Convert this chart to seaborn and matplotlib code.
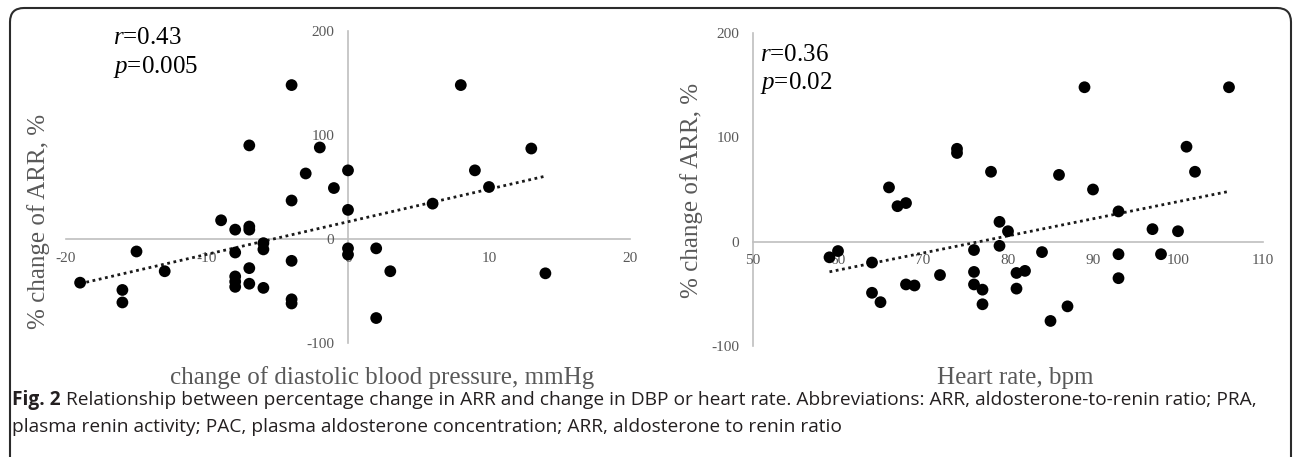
import numpy as np
import pandas as pd
import matplotlib
matplotlib.use("Agg")
import matplotlib.pyplot as plt
import seaborn as sns
from matplotlib.patches import FancyBboxPatch

# ---------------- data ----------------
dbp_change = [-4, 8, -7, -2, -3, 0, -1, 9, 10, 13, 6, -4, 0, -9, -8, -7, -7, -6, -6, -15,
              -8, -4, -7, -13, -19, -8, -8, -8, -7, -6, -16, -16, -4, -4, 0, 0, 2, 3, 14, 2]
arr_change_dbp = [148, 148, 90, 88, 63, 66, 49, 66, 50, 87, 34, 37, 28, 18, 9, 12, 9, -4, -10, -12,
                  -13, -21, -28, -31, -42, -36, -41, -46, -43, -47, -49, -61, -58, -62, -9, -15, -9, -31, -33, -76]

heart_rate = [74, 74, 66, 68, 67, 89, 106, 78, 86, 90, 101, 102, 59, 60, 64, 72, 68, 69, 64, 65,
              76, 76, 76, 77, 77, 79, 80, 79, 84, 93, 97, 100, 93, 98, 81, 82, 81, 93, 87, 85]
arr_change_hr = [89, 85, 52, 37, 34, 148, 148, 67, 64, 50, 91, 67, -15, -9, -20, -32, -41, -42, -49, -58,
                 -8, -29, -41, -46, -60, 19, 10, -4, -10, 29, 12, 10, -12, -12, -30, -28, -45, -35, -62, -76]

x_ticks_dbp = [-20, -10, 0, 10, 20]
x_ticks_hr = [50, 60, 70, 80, 90, 100, 110]
y_ticks = [-100, 0, 100, 200]

stats_dbp = ("0.43", "0.005")
stats_hr = ("0.36", "0.02")

xlabel_dbp = "change of diastolic blood pressure, mmHg"
xlabel_hr = "Heart rate, bpm"
ylabel = "% change of ARR, %"
caption_bold = "Fig. 2"
caption_1 = (" Relationship between percentage change in ARR and change in DBP or heart rate. "
             "Abbreviations: ARR, aldosterone-to-renin ratio; PRA,")
caption_2 = ("plasma renin activity; PAC, plasma aldosterone concentration; ARR, aldosterone to renin ratio")

df_dbp = pd.DataFrame({"x": dbp_change, "y": arr_change_dbp})
df_hr = pd.DataFrame({"x": heart_rate, "y": arr_change_hr})

# ---------------- style ----------------
sns.set_theme(style="white")
plt.rcParams["font.family"] = ["Liberation Serif", "DejaVu Serif"]
plt.rcParams["mathtext.fontset"] = "custom"
plt.rcParams["mathtext.rm"] = "Liberation Serif"
plt.rcParams["mathtext.it"] = "Liberation Serif:italic"
plt.rcParams["axes.unicode_minus"] = False

W, H = 1293, 457
fig = plt.figure(figsize=(W / 100, H / 100), dpi=100)
fig.patch.set_facecolor("white")

def ax_rect(x0, x1, ytop, ybot):
    return [x0 / W, 1 - ybot / H, (x1 - x0) / W, (ybot - ytop) / H]

ax1 = fig.add_axes(ax_rect(66, 630, 31, 343))
ax2 = fig.add_axes(ax_rect(753, 1263, 33, 346))

tick_col = "#595959"
axis_col = "#bfbfbf"
line_style = (0, (1, 1.3))

def style_axes(ax, xlim, xticks, yaxis_at):
    ax.set_xlim(*xlim)
    ax.set_ylim(-100, 200)
    ax.set_xticks(xticks)
    ax.set_yticks(y_ticks)
    ax.set_facecolor("none")
    for s in ["top", "right"]:
        ax.spines[s].set_visible(False)
    ax.spines["left"].set_position(("data", yaxis_at))
    ax.spines["bottom"].set_position(("data", 0))
    for s in ["left", "bottom"]:
        ax.spines[s].set_color(axis_col)
        ax.spines[s].set_linewidth(1.2)
        ax.spines[s].set_zorder(0)
    ax.tick_params(axis="both", length=0, labelsize=11, labelcolor=tick_col)
    ax.tick_params(axis="x", pad=9)
    ax.tick_params(axis="y", pad=10)
    ax.set_xlabel("")
    ax.set_ylabel("")
    ax.grid(False)

for ax, df in [(ax1, df_dbp), (ax2, df_hr)]:
    sns.scatterplot(data=df, x="x", y="y", ax=ax, color="black", s=72,
                    edgecolor="none", linewidth=0, zorder=3, legend=False)
    sns.regplot(data=df, x="x", y="y", ax=ax, scatter=False, ci=None, truncate=True,
                line_kws=dict(color="#1a1a1a", linestyle=line_style, linewidth=2.0, zorder=2))

style_axes(ax1, (-20, 20), x_ticks_dbp, 0)
style_axes(ax2, (50, 110), x_ticks_hr, 50)

# stats text
st_fs = 18
fig.text(113 / W, 1 - 38 / H, r"$\mathit{r}$=" + stats_dbp[0], fontsize=st_fs, va="center", ha="left", color="black")
fig.text(113 / W, 1 - 67 / H, r"$\mathit{p}$=" + stats_dbp[1], fontsize=st_fs, va="center", ha="left", color="black")
fig.text(760 / W, 1 - 55 / H, r"$\mathit{r}$=" + stats_hr[0], fontsize=st_fs, va="center", ha="left", color="black")
fig.text(760 / W, 1 - 83 / H, r"$\mathit{p}$=" + stats_hr[1], fontsize=st_fs, va="center", ha="left", color="black")

# axis titles
lab_col = "#595959"
lab_fs = 18
fig.text(382 / W, 1 - 378 / H, xlabel_dbp, fontsize=lab_fs, ha="center", va="center", color=lab_col)
fig.text(1015 / W, 1 - 378 / H, xlabel_hr, fontsize=lab_fs, ha="center", va="center", color=lab_col)
fig.text(39 / W, 1 - 221 / H, ylabel, fontsize=lab_fs, ha="center", va="center", rotation=90, color=lab_col)
fig.text(692 / W, 1 - 190 / H, ylabel, fontsize=lab_fs, ha="center", va="center", rotation=90, color=lab_col)

# caption
cap_fam = ["Open Sans", "DejaVu Sans"]
cap_col = "#231f20"
cap_fs = 13.8
tb = fig.text(12 / W, 1 - 400 / H, caption_bold, fontsize=cap_fs, fontweight="bold", family=cap_fam,
              ha="left", va="center", color=cap_col)
plt.annotate(caption_1, xy=(1, 0.5), xycoords=tb, ha="left", va="center", fontsize=cap_fs,
             family=cap_fam, color=cap_col, annotation_clip=False)
fig.text(12 / W, 1 - 427 / H, caption_2, fontsize=cap_fs, family=cap_fam, ha="left", va="center", color=cap_col)

# outer rounded frame
frame = FancyBboxPatch((0.10, -0.3), 12.81, 4.49 + 0.3, boxstyle="round,pad=0,rounding_size=0.14",
                       transform=fig.dpi_scale_trans, fill=False, edgecolor="#2b2b2b", linewidth=1.5,
                       clip_on=False)
fig.patches.append(frame)

fig.savefig("out.png", dpi=100, facecolor="white")
